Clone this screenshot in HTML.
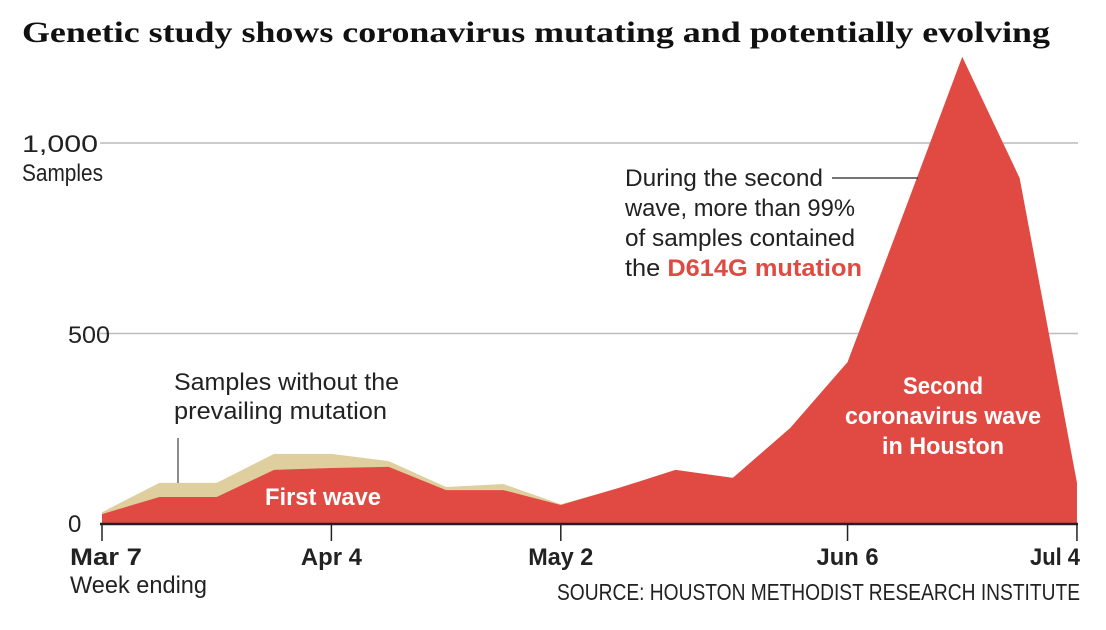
<!DOCTYPE html>
<html><head><meta charset="utf-8"><style>
body{margin:0;background:#fff;}
svg{display:block;}
.c{font-family:"Liberation Sans Narrow","Liberation Sans",sans-serif;}
</style></head><body>
<svg id="chart" width="1106" height="630">
<text x="22" y="42" textLength="1028" lengthAdjust="spacingAndGlyphs" font-family="Liberation Serif,serif" font-weight="bold" font-size="30" fill="#111">Genetic study shows coronavirus mutating and potentially evolving</text>
<g id="grid"></g>
<g id="areas"></g>
<g id="axis"></g>
<g class="c" font-size="24" fill="#222">
<text x="22" y="152" textLength="76" lengthAdjust="spacingAndGlyphs">1,000</text>
<text x="22" y="181" textLength="81" lengthAdjust="spacingAndGlyphs">Samples</text>
<text x="68" y="343" textLength="42" lengthAdjust="spacingAndGlyphs">500</text>
<text x="68" y="532">0</text>
<text x="70" y="593" textLength="137" lengthAdjust="spacingAndGlyphs">Week ending</text>
<text x="557" y="600" textLength="523" lengthAdjust="spacingAndGlyphs" font-size="23">SOURCE: HOUSTON METHODIST RESEARCH INSTITUTE</text>
<g>
<text x="625" y="186" textLength="198" lengthAdjust="spacingAndGlyphs">During the second</text>
<text x="625" y="216" textLength="230" lengthAdjust="spacingAndGlyphs">wave, more than 99%</text>
<text x="625" y="246" textLength="230" lengthAdjust="spacingAndGlyphs">of samples contained</text>
<text x="625" y="276" textLength="237" lengthAdjust="spacingAndGlyphs">the <tspan fill="#e04a43" font-weight="bold">D614G mutation</tspan></text>
</g>
<line x1="832" y1="178" x2="918" y2="178" stroke="#222" stroke-width="1.2"/>
<g>
<text x="174" y="390" textLength="225" lengthAdjust="spacingAndGlyphs">Samples without the</text>
<text x="174" y="419" textLength="213" lengthAdjust="spacingAndGlyphs">prevailing mutation</text>
</g>
<line x1="178" y1="438" x2="178" y2="483" stroke="#666" stroke-width="1.5"/>
<text x="265" y="505" textLength="116" lengthAdjust="spacingAndGlyphs" fill="#fff" font-weight="bold">First wave</text>
<g fill="#fff" font-weight="bold">
<text x="903" y="394" textLength="80" lengthAdjust="spacingAndGlyphs">Second</text>
<text x="845" y="424" textLength="196" lengthAdjust="spacingAndGlyphs">coronavirus wave</text>
<text x="882" y="454" textLength="122" lengthAdjust="spacingAndGlyphs">in Houston</text>
</g>
</g>
</svg>
<script>
const weeks = [0,1,2,3,4,5,6,7,8,9,10,11,12,13,14,15,16,17];
const totalSamples = [31,108,108,184,184,165,97,105,52,94,142,121,252,425,824,1226,908,108];
const d614gSamples = [26,71,71,142,147,150,89,89,50,94,142,121,252,425,824,1226,908,108];
const tickWeeks = [0,4,8,13,17];
const tickLabels = ["Mar 7","Apr 4","May 2","Jun 6","Jul 4"];
const gridValues = [500,1000];
const NS="http://www.w3.org/2000/svg";
const x = w => 102 + w*57.35;
const y = v => 524 - v*0.381;
function mk(tag, attrs, parent){const e=document.createElementNS(NS,tag);for(const k in attrs)e.setAttribute(k,attrs[k]);parent.appendChild(e);return e;}
const grid=document.getElementById('grid'), areas=document.getElementById('areas'), axis=document.getElementById('axis');
gridValues.forEach(v=>{
  const l=mk('line',{x1:100,x2:1078,y1:y(v),y2:y(v),stroke:'#bcbcbc','stroke-width':1.5},grid);
  
  
});
function areaPath(vals){
  let d='M'+x(weeks[0])+','+y(0);
  weeks.forEach((w,i)=>{d+=' L'+x(w)+','+y(vals[i]);});
  d+=' L'+x(weeks[weeks.length-1])+','+y(0)+' Z';return d;
}
const a1=mk('path',{d:areaPath(totalSamples),fill:'#e0cf9e'},areas);


const a2=mk('path',{d:areaPath(d614gSamples),fill:'#e04a43'},areas);


const base=mk('line',{x1:100,x2:1078,y1:y(0),y2:y(0),stroke:'#222','stroke-width':2.5},axis);


const labelWidths=[72,61,65,62,50];
tickWeeks.forEach((w,i)=>{
  const t=mk('line',{x1:x(w),x2:x(w),y1:y(0),y2:y(0)+17,stroke:'#222','stroke-width':1.5},axis);
  
  
  const wd=labelWidths[i];
  const tx=i===0?70:(i===tickLabels.length-1?1080-wd:x(w)-wd/2);
  const lab=mk('text',{x:tx,y:565,textLength:wd,lengthAdjust:'spacingAndGlyphs','font-size':24,'font-weight':'bold',fill:'#222','font-family':'"Liberation Sans Narrow","Liberation Sans",sans-serif'},axis);
  lab.textContent=tickLabels[i];
  
  
});
</script>
</body></html>
